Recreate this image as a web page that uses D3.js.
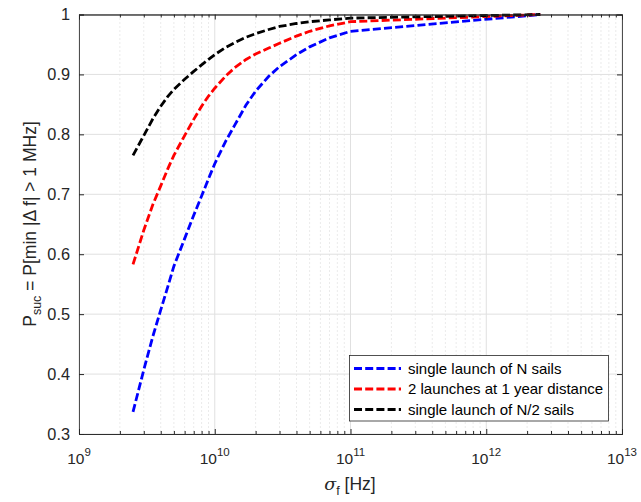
<!DOCTYPE html>
<html>
<head>
<meta charset="utf-8">
<script src="https://cdn.jsdelivr.net/npm/d3@7"></script>
<style>
  body { margin: 0; background: #fff; }
  svg { font-family: "Liberation Sans", Arial, Helvetica, sans-serif; }
</style>
</head>
<body>
<svg width="641" height="502"></svg>
<script>
// sigma_f values [Hz]
var sigma = [2.5e9, 3e9, 3.5e9, 4e9, 4.5e9, 5e9, 6e9, 7e9, 8e9, 9e9, 1e10, 1.2e10, 1.4e10, 1.7e10, 2e10, 2.5e10, 3e10, 4e10, 5e10, 7e10, 1e11, 2.5e12];
var pSingleN    = [0.337, 0.407, 0.463, 0.507, 0.545, 0.58, 0.626, 0.665, 0.697, 0.726, 0.751, 0.788, 0.815, 0.849, 0.872, 0.897, 0.913, 0.933, 0.946, 0.961, 0.972, 1.0];
var pTwoLaunch  = [0.583, 0.64, 0.683, 0.714, 0.742, 0.765, 0.798, 0.825, 0.847, 0.864, 0.877, 0.897, 0.911, 0.925, 0.934, 0.944, 0.952, 0.964, 0.972, 0.981, 0.988, 1.0];
var pSingleHalf = [0.765, 0.798, 0.826, 0.847, 0.863, 0.875, 0.892, 0.905, 0.916, 0.925, 0.933, 0.945, 0.953, 0.962, 0.968, 0.975, 0.98, 0.985, 0.988, 0.991, 0.994, 1.0];

var seriesNames = ['single launch of N sails', '2 launches at 1 year distance', 'single launch of N/2 sails'];
var seriesColors = ['#0000ff', '#ff0000', '#000000'];
var seriesValues = [pSingleN, pTwoLaunch, pSingleHalf];

var xDecades = [1e9, 1e10, 1e11, 1e12, 1e13];
var yTicks = [0.3, 0.4, 0.5, 0.6, 0.7, 0.8, 0.9, 1];

var svg = d3.select('svg');
var plotLeft = 79, plotRight = 622, plotTop = 14.5, plotBottom = 434;
var axisColor = '#262626';
var dash = '8,3.2';

var x = d3.scaleLog().domain([1e9, 1e13]).range([plotLeft, plotRight]);
var y = d3.scaleLinear().domain([0.3, 1]).range([plotBottom, plotTop]);

// minor x positions
var xMinor = [];
xDecades.slice(0, -1).forEach(function(d) {
    for (var k = 2; k <= 9; k++) xMinor.push(d * k);
});

var grid = svg.append('g').attr('class', 'grid');
grid.selectAll('.xminor')
    .data(xMinor)
    .enter()
    .append('line')
    .attr('x1', function(d) { return x(d); })
    .attr('x2', function(d) { return x(d); })
    .attr('y1', plotTop).attr('y2', plotBottom)
    .attr('stroke', '#d6d6d6')
    .attr('stroke-width', 1)
    .attr('stroke-dasharray', '1,3');
grid.selectAll('.xmajor')
    .data(xDecades)
    .enter()
    .append('line')
    .attr('x1', function(d) { return x(d); })
    .attr('x2', function(d) { return x(d); })
    .attr('y1', plotTop).attr('y2', plotBottom)
    .attr('stroke', '#e0e0e0')
    .attr('stroke-width', 1);
grid.selectAll('.ymajor')
    .data(yTicks)
    .enter()
    .append('line')
    .attr('x1', plotLeft).attr('x2', plotRight)
    .attr('y1', function(d) { return y(d); })
    .attr('y2', function(d) { return y(d); })
    .attr('stroke', '#e0e0e0')
    .attr('stroke-width', 1);

// data lines
var line = d3.line()
    .x(function(d) { return x(d[0]); })
    .y(function(d) { return y(d[1]); });

svg.append('g').selectAll('.series')
    .data(seriesValues)
    .enter()
    .append('path')
    .attr('class', 'series')
    .attr('d', function(vals) { return line(sigma.map(function(s, i) { return [s, vals[i]]; })); })
    .attr('fill', 'none')
    .attr('stroke', function(d, i) { return seriesColors[i]; })
    .attr('stroke-width', 2.8)
    .attr('stroke-dasharray', dash);

// axes (ticks inward)
var xAxisB = d3.axisBottom(x).tickValues(xDecades).tickSize(-5).tickFormat('');
var xAxisT = d3.axisTop(x).tickValues(xDecades).tickSize(-5).tickFormat('');
var xMinorB = d3.axisBottom(x).tickValues(xMinor).tickSize(-3).tickFormat('');
var xMinorT = d3.axisTop(x).tickValues(xMinor).tickSize(-3).tickFormat('');
var yAxisL = d3.axisLeft(y).tickValues(yTicks).tickSize(-5).tickPadding(9).tickFormat(d3.format('~g'));
var yAxisR = d3.axisRight(y).tickValues(yTicks).tickSize(-5).tickFormat('');

function styleAxis(g) {
    g.selectAll('path, line').attr('stroke', axisColor);
    g.select('.domain').attr('stroke-width', 0.8);
    g.selectAll('text').attr('fill', axisColor).style('font-size', '16.3px').style('font-family', null);
}

svg.append('g').attr('transform', 'translate(0,' + plotBottom + ')').call(xMinorB).call(styleAxis);
svg.append('g').attr('transform', 'translate(0,' + plotTop + ')').call(xMinorT).call(styleAxis);
svg.append('g').attr('transform', 'translate(0,' + plotBottom + ')').call(xAxisB).call(styleAxis);
svg.append('g').attr('transform', 'translate(0,' + plotTop + ')').call(xAxisT).call(styleAxis);
svg.append('g').attr('transform', 'translate(' + plotLeft + ',0)').call(yAxisL).call(styleAxis);
svg.append('g').attr('transform', 'translate(' + plotRight + ',0)').call(yAxisR).call(styleAxis);

// x tick labels 10^n
var xLab = svg.append('g').selectAll('.xlab')
    .data(xDecades)
    .enter()
    .append('text')
    .attr('x', function(d) { return x(d); })
    .attr('y', 464)
    .attr('text-anchor', 'middle')
    .attr('fill', axisColor)
    .style('font-size', '15.5px');
xLab.append('tspan').text('10');
xLab.append('tspan')
    .attr('dy', -8.5)
    .style('font-size', '11.5px')
    .text(function(d) { return Math.round(Math.log10(d)); });

// x label
var xTitle = svg.append('text')
    .attr('x', 350)
    .attr('y', 490)
    .attr('text-anchor', 'middle')
    .attr('fill', axisColor)
    .style('font-size', '17.5px');
xTitle.append('tspan').style('font-style', 'italic').style('font-family', '"DejaVu Serif", serif').text('σ');
xTitle.append('tspan').attr('dy', 5).style('font-size', '12.5px').text('f');
xTitle.append('tspan').attr('dy', -5).text(' [Hz]');

// y label
var yTitle = svg.append('text')
    .attr('transform', 'translate(36,224) rotate(-90)')
    .attr('text-anchor', 'middle')
    .attr('fill', axisColor)
    .style('font-size', '17.5px');
yTitle.append('tspan').text('P');
yTitle.append('tspan').attr('dy', 5).style('font-size', '12.5px').text('suc');
yTitle.append('tspan').attr('dy', -5).text(' = P[min |Δ f| > 1 MHz]');

// legend
var legend = svg.append('g').attr('transform', 'translate(349.5,355.5)');
legend.append('rect')
    .attr('width', 259)
    .attr('height', 65.5)
    .attr('fill', '#fff')
    .attr('stroke', axisColor)
    .attr('stroke-width', 0.8);
var legItem = legend.selectAll('.leg')
    .data(seriesNames)
    .enter()
    .append('g')
    .attr('transform', function(d, i) { return 'translate(0,' + (13 + i * 20.5) + ')'; });
legItem.append('line')
    .attr('x1', 4.5).attr('x2', 51.5)
    .attr('stroke', function(d, i) { return seriesColors[i]; })
    .attr('stroke-width', 2.8)
    .attr('stroke-dasharray', dash);
legItem.append('text')
    .attr('x', 58.5)
    .attr('dy', '0.35em')
    .attr('fill', '#000')
    .style('font-size', '15px')
    .text(function(d) { return d; });
</script>
</body>
</html>
